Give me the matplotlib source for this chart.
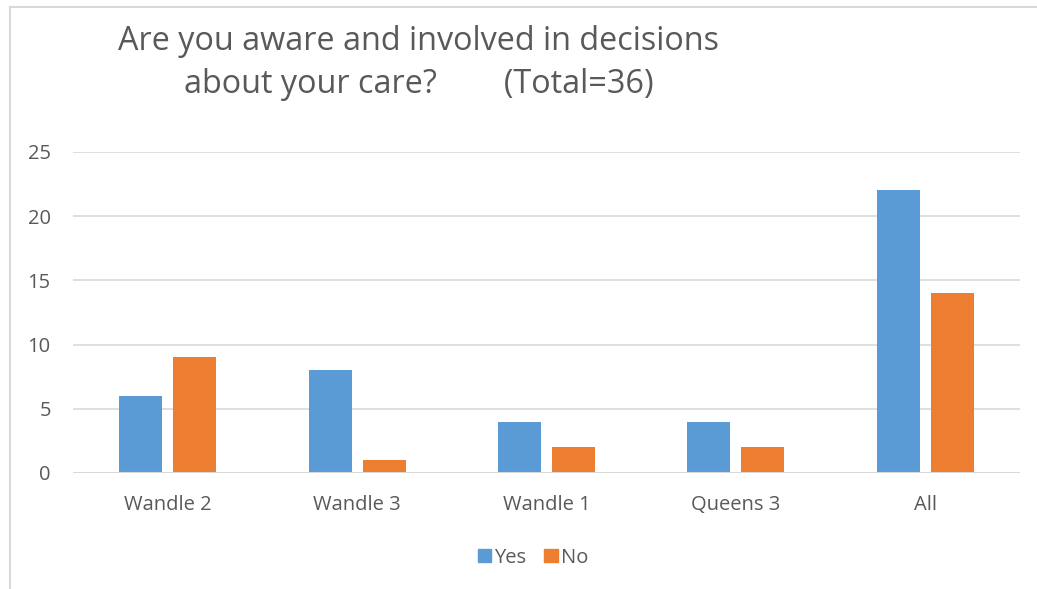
import matplotlib
matplotlib.use('Agg')
import matplotlib.pyplot as plt
from matplotlib.lines import Line2D
from matplotlib.patches import Patch
import numpy as np

plt.rcParams['font.family'] = ['Open Sans', 'DejaVu Sans']

wards = ['Wandle 2', 'Wandle 3', 'Wandle 1', 'Queens 3', 'All']
yes_counts = [6, 8, 4, 4, 22]
no_counts = [9, 1, 2, 2, 14]
yticks = [0, 5, 10, 15, 20, 25]

blue = '#5B9BD5'
orange = '#ED7D31'
text_grey = '#595959'
grid_grey = '#D9D9D9'

fig = plt.figure(figsize=(10.37, 5.89), dpi=100)
ax = fig.add_axes([0.0704, 0.197, 0.9132, 0.545])

x = np.arange(len(wards))
w = 0.227
ax.bar(x - 0.143, yes_counts, w, color=blue, label='Yes', zorder=3)
ax.bar(x + 0.143, no_counts, w, color=orange, label='No', zorder=3)

ax.set_xlim(-0.5, len(wards) - 0.5)
ax.set_ylim(0, 25)
ax.set_yticks(yticks)
ax.set_xticks(x)
ax.set_xticklabels(wards)
ax.tick_params(length=0, labelsize=14.5, colors=text_grey)
ax.tick_params(axis='x', pad=16)
ax.tick_params(axis='y', pad=16)
ax.yaxis.grid(True, color=grid_grey, linewidth=1.2, zorder=0)
for s in ax.spines.values():
    s.set_visible(False)
ax.axhline(0, color=grid_grey, linewidth=1.5, zorder=4)

# title, two lines
fig.text(0.404, 0.93, 'Are you aware and involved in decisions',
         ha='center', va='center', fontsize=23.3, color=text_grey)
fig.text(0.404, 0.856, 'about your care?        (Total=36)',
         ha='center', va='center', fontsize=23.3, color=text_grey)

# legend
handles = [Patch(color=blue, label='Yes'), Patch(color=orange, label='No')]
fig.legend(handles=handles, loc='center', bbox_to_anchor=(0.514, 0.053), ncol=2,
           frameon=False, fontsize=14.5, handlelength=0.65, handleheight=0.65,
           handletextpad=0.15, columnspacing=0.9, labelcolor=text_grey)

# chart border
fig.add_artist(Line2D([0.0096, 0.0096], [0.0, 0.988], color=grid_grey, linewidth=1.5,
                      transform=fig.transFigure))
fig.add_artist(Line2D([0.0096, 1.0], [0.988, 0.988], color=grid_grey, linewidth=1.5,
                      transform=fig.transFigure))

fig.savefig('out.png', dpi=100)
